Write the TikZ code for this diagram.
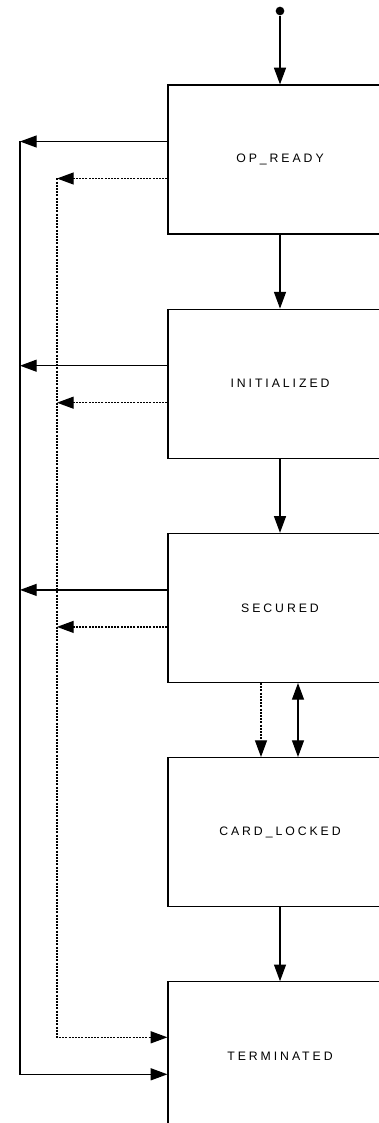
\documentclass[tikz,border=0pt]{standalone}
\usepackage{fontspec}
\newfontfamily\statefont[LetterSpace=24]{Liberation Sans}
\usetikzlibrary{positioning, arrows.meta}
\tikzset{
  state/.style={
    draw, rectangle, line width=0.9pt,
    minimum width=168pt, minimum height=111.75pt,
    font=\statefont\fontsize{9.2pt}{11pt}\selectfont
  },
  % transitions
  trans/.style={
    -{Triangle[length=12.5pt, width=9pt]}, line width=0.9pt
  },
  dottrans/.style={
    trans, dash pattern=on 1.5pt off 0.9pt
  },
  bothtrans/.style={
    {Triangle[length=12.5pt, width=9pt]}-{Triangle[length=12.5pt, width=9pt]},
    line width=0.9pt
  },
  initdot/.style={
    circle, fill, inner sep=0pt, minimum size=6.5pt
  },
}

\begin{document}
\begin{tikzpicture}[x=0.75pt, y=0.75pt, node distance=55.5pt]
  \useasboundingbox (0,0) rectangle (378,-1123);

  %% -- States --
  \node[state] (ready) at (280,-159.5) {OP\_READY};
  \node[state, below=of ready]   (init)    {INITIALIZED};
  \node[state, below=of init]    (secured) {SECURED};
  \node[state, below=of secured] (locked)  {CARD\_LOCKED};
  \node[state, below=of locked]  (term)    {TERMINATED};

  \node[initdot] (start) at (280,-11) {};

  %% -- Side rails --
  \coordinate (railS) at (20,0);
  \coordinate (railD) at (57,0);
  \foreach \s in {ready, init, secured} {
    \coordinate (\s-out) at ([yshift=13.5pt]\s.west);
    \coordinate (\s-dot) at ([yshift=-14.25pt]\s.west);
  }
  \coordinate (term-in)  at ([yshift=-13.5pt]term.west);
  \coordinate (term-dot) at ([yshift=14.25pt]term.west);

  %% -- Main flow --
  \draw[trans] (start) -- (ready);
  \draw[trans] (ready) -- (init);
  \draw[trans] (init) -- (secured);
  \draw[dottrans] ([xshift=-14.25pt]secured.south) -- ([xshift=-14.25pt]locked.north);
  \draw[bothtrans] ([xshift=13.5pt]secured.south) -- ([xshift=13.5pt]locked.north);
  \draw[trans] (locked) -- (term);

  %% -- To TERMINATED --
  \foreach \s in {ready, init, secured} {
    \draw[trans] (\s-out) -- (\s-out -| railS);
    \draw[dottrans] (\s-dot) -- (\s-dot -| railD);
  }
  \draw[trans] (ready-out -| railS) |- (term-in);
  \draw[dottrans] (ready-dot -| railD) |- (term-dot);

\end{tikzpicture}
\end{document}
